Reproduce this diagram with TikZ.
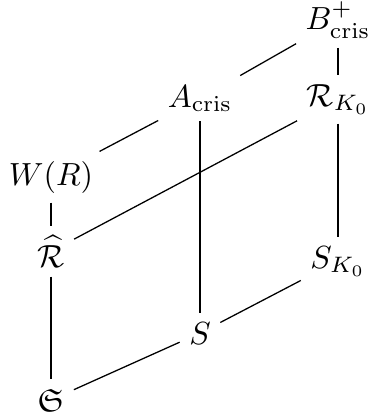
\documentclass[tikz,border=0pt]{standalone}
\usepackage{amsmath,amssymb}
\begin{document}
\begin{tikzpicture}[x=0.3125pt,y=-0.3125pt,
  cell/.style={anchor=base,inner sep=3pt,outer sep=0pt},
  conn/.style={line width=0.4pt}]
\useasboundingbox (0,0) rectangle (369,419);
\node[cell] (B) at (338,29) {$B^+_{\mathrm{cris}}$};
\node[cell] (A) at (200,107) {$A_{\mathrm{cris}}$};
\node[cell] (RK) at (338,106) {$\mathcal{R}_{K_0}$};
\node[cell] (W) at (51,185) {$W(R)$};
\node[cell] (HR) at (51,267) {$\widehat{\mathcal{R}}$};
\node[cell] (SK) at (338,268) {$S_{K_0}$};
\node[cell] (S) at (200,344) {$S$};
\node[cell] (FS) at (51,411) {$\mathfrak{S}$};
\draw[conn] (B) -- (A);
\draw[conn] (B) -- (RK);
\draw[conn] (A) -- (W);
\draw[conn] (A) -- (S);
\draw[conn] (RK) -- (HR);
\draw[conn] (RK) -- (SK);
\draw[conn] (W) -- (HR);
\draw[conn] (HR) -- (FS);
\draw[conn] (SK) -- (S);
\draw[conn] (S) -- (FS);
\end{tikzpicture}
\end{document}
